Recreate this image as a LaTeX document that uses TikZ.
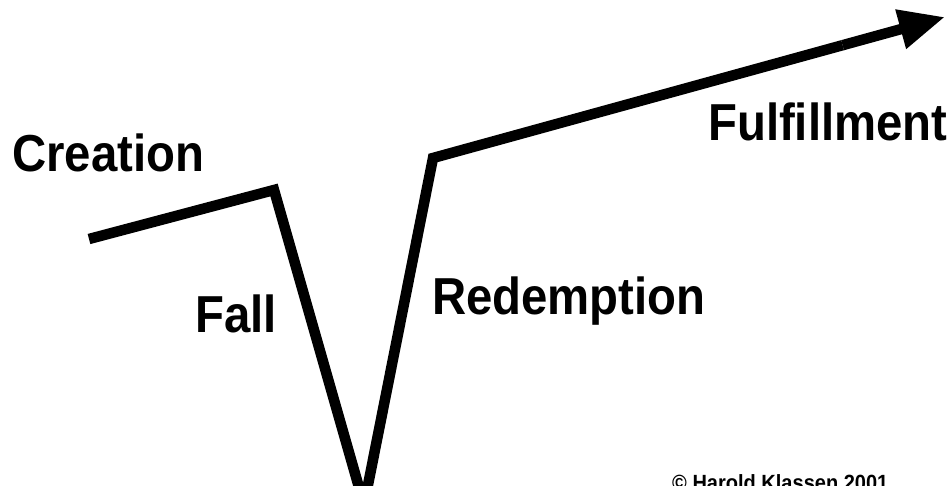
\documentclass[tikz,border=0pt]{standalone}
\usepackage{fontspec}
\newfontfamily\lbl{Liberation Sans}[FakeStretch=0.91]
\usetikzlibrary{arrows.meta,calc}
\begin{document}
\begin{tikzpicture}[x=1pt,y=-1pt,
  label/.style={anchor=base west,inner sep=0pt,font=\lbl\bfseries\fontsize{52}{60}\selectfont},
  small/.style={anchor=base west,inner sep=0pt,font=\lbl\bfseries\fontsize{22}{26}\selectfont},
  story/.style={line width=10.5pt,line join=miter,miter limit=10}]
\useasboundingbox (0,0) rectangle (950,486);
\clip (0,0) rectangle (950,486);
\coordinate (start) at (89,239);
\coordinate (top1) at (274,190);
\coordinate (low) at (364,505);
\coordinate (top2) at (433,158);
\coordinate (tip) at (945,17);
\coordinate (mid) at ($(top2)!0.8!(tip)$);
\draw[story] (start) -- (top1) -- (low) -- (top2) -- (mid);
\draw[story,-{Triangle[length=46pt,width=38pt]}] (mid) -- (tip);
\node[label] (creation) at (12,172) {Creation};
\node[label] (fall) at (195,332) {Fall};
\node[label] (redemption) at (432,314) {Redemption};
\node[label] (fulfillment) at (708,141) {Fulfillment};
\node[small] (copy) at (672,490) {© Harold Klassen 2001};
\end{tikzpicture}
\end{document}
